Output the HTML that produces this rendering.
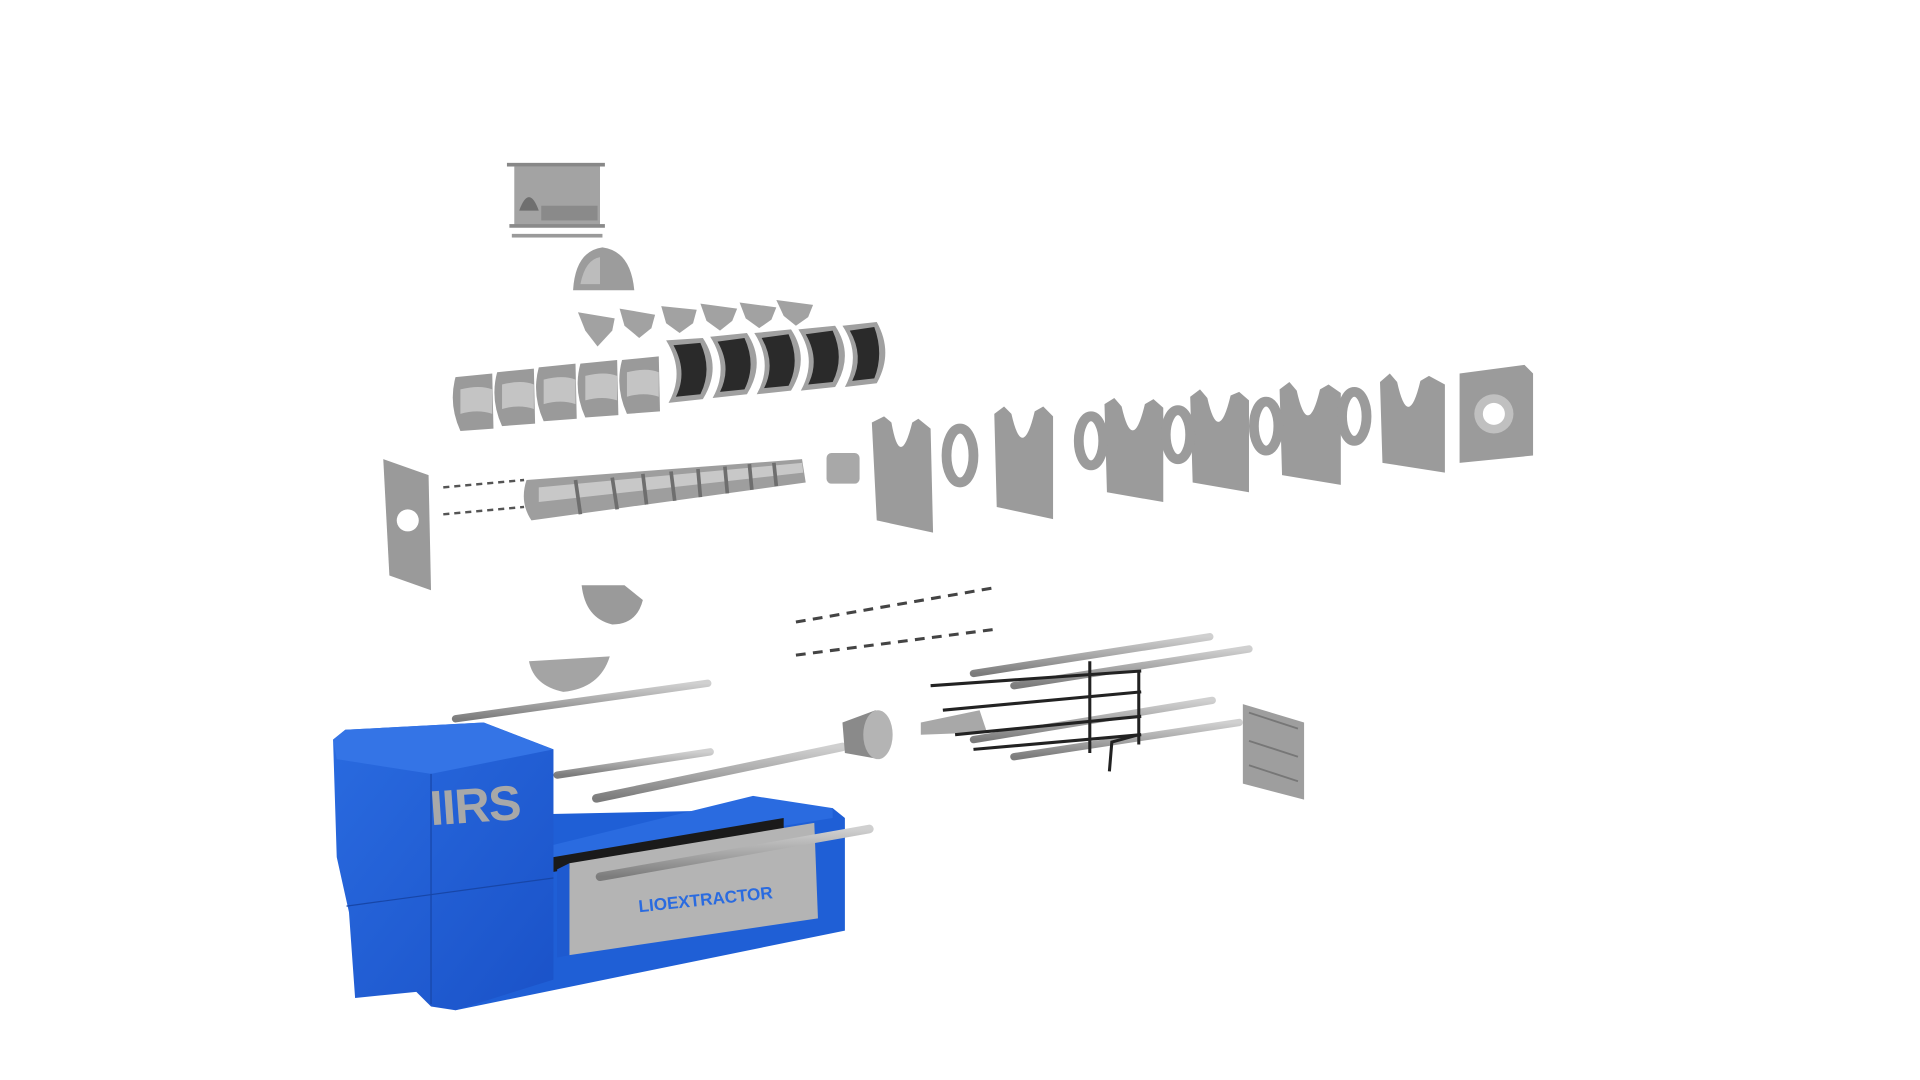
<!DOCTYPE html>
<html><head><meta charset="utf-8"><style>
html,body{margin:0;padding:0;background:#fff;width:1920px;height:1080px;overflow:hidden}
svg{display:block}
</style></head><body>
<svg width="1920" height="1080" viewBox="0 0 1568 882" preserveAspectRatio="none" xmlns="http://www.w3.org/2000/svg">
<defs>
<linearGradient id="rod" x1="0" y1="0" x2="0" y2="1"><stop offset="0" stop-color="#d0d0d0"/><stop offset=".5" stop-color="#a8a8a8"/><stop offset="1" stop-color="#7c7c7c"/></linearGradient>
<linearGradient id="blu" x1="0" y1="0" x2="1" y2="1"><stop offset="0" stop-color="#2a6be0"/><stop offset="1" stop-color="#1a52c8"/></linearGradient>
</defs>
<!-- hopper -->
<rect x="414" y="133" width="80" height="3" fill="#888"/>
<rect x="420" y="136" width="70" height="48" fill="#a3a3a3"/>
<path d="M424 172 Q432 150 440 172Z" fill="#6f6f6f"/>
<rect x="442" y="168" width="46" height="12" fill="#8a8a8a"/>
<rect x="416" y="183" width="78" height="3" fill="#8a8a8a"/>
<rect x="418" y="191" width="74" height="3" fill="#9a9a9a"/>
<!-- small arch -->
<path d="M468 237 Q470 205 492 202 Q515 205 518 237Z" fill="#9c9c9c"/>
<path d="M474 232 Q478 212 490 210 L490 232Z" fill="#bcbcbc"/>
<!-- wedges -->
<g fill="#a2a2a2">
<path d="M472 255 L502 260 L500 270 L488 283 L478 270Z"/>
<path d="M506 252 L535 257 L532 268 L522 276 L510 266Z"/>
<path d="M540 250 L569 253 L566 264 L555 272 L544 264Z"/>
<path d="M572 248 L602 252 L598 262 L588 270 L577 262Z"/>
<path d="M604 247 L634 251 L630 261 L620 268 L609 260Z"/>
<path d="M634 245 L664 249 L660 259 L650 266 L640 258Z"/>
</g>
<!-- light barrel halves -->
<g fill="#9a9a9a">
<path d="M372 308 L402 305 L403 350 L376 352 Q366 330 372 308Z"/>
<path d="M406 304 L436 301 L437 346 L410 348 Q400 326 406 304Z"/>
<path d="M440 300 L470 297 L471 342 L444 344 Q434 322 440 300Z"/>
<path d="M474 297 L504 294 L505 339 L478 341 Q468 319 474 297Z"/>
<path d="M508 294 L538 291 L539 336 L512 338 Q502 316 508 294Z"/>
</g>
<g fill="#c4c4c4">
<path d="M376 318 Q392 314 402 318 L402 338 Q390 334 376 338Z"/>
<path d="M410 314 Q426 310 436 314 L436 334 Q424 330 410 334Z"/>
<path d="M444 310 Q460 306 470 310 L470 330 Q458 326 444 330Z"/>
<path d="M478 307 Q494 303 504 307 L504 327 Q492 323 478 327Z"/>
<path d="M512 304 Q528 300 538 304 L538 324 Q526 320 512 324Z"/>
</g>
<!-- dark barrel halves -->
<g>
<path d="M544 278 L574 276 Q590 300 574 326 L546 329 Q560 304 544 278Z" fill="#a0a0a0"/>
<path d="M550 282 L572 280 Q582 302 572 322 L552 324 Q562 304 550 282Z" fill="#2a2a2a"/>
<path d="M580 275 L610 272 Q626 296 610 322 L582 325 Q596 300 580 275Z" fill="#a0a0a0"/>
<path d="M586 279 L608 276 Q618 298 608 318 L588 320 Q598 300 586 279Z" fill="#2a2a2a"/>
<path d="M616 272 L646 269 Q662 293 646 319 L618 322 Q632 297 616 272Z" fill="#a0a0a0"/>
<path d="M622 276 L644 273 Q654 295 644 315 L624 317 Q634 297 622 276Z" fill="#2a2a2a"/>
<path d="M652 269 L682 266 Q698 290 682 316 L654 319 Q668 294 652 269Z" fill="#a0a0a0"/>
<path d="M658 273 L680 270 Q690 292 680 312 L660 314 Q670 294 658 273Z" fill="#2a2a2a"/>
<path d="M688 266 L716 263 Q730 288 716 313 L690 316 Q704 290 688 266Z" fill="#a0a0a0"/>
<path d="M694 270 L714 267 Q722 289 714 309 L696 311 Q706 291 694 270Z" fill="#2a2a2a"/>
</g>
<!-- left plate -->
<path d="M313 375 L350 388 L352 482 L318 470Z" fill="#9a9a9a"/>
<circle cx="333" cy="425" r="9" fill="#fff"/>
<g stroke="#555" stroke-width="2" stroke-dasharray="5 4"><line x1="362" y1="398" x2="428" y2="392"/><line x1="362" y1="420" x2="428" y2="414"/></g>
<!-- screw -->
<path d="M430 392 L655 375 L658 394 L434 425 Q424 410 430 392Z" fill="#9e9e9e"/>
<path d="M440 398 L655 378 L656 386 L440 410Z" fill="#c8c8c8"/>
<g stroke="#6e6e6e" stroke-width="3"><line x1="470" y1="392" x2="474" y2="420"/><line x1="500" y1="390" x2="504" y2="416"/><line x1="525" y1="387" x2="528" y2="412"/><line x1="548" y1="385" x2="551" y2="409"/><line x1="570" y1="383" x2="572" y2="406"/><line x1="592" y1="381" x2="594" y2="403"/><line x1="612" y1="379" x2="614" y2="400"/><line x1="632" y1="378" x2="634" y2="397"/></g>
<rect x="675" y="370" width="27" height="25" rx="4" fill="#a8a8a8"/>
<!-- plates -->
<g fill="#9b9b9b">
<path d="M712 345 L722 340 L728 345 Q735 385 745 345 L750 342 L760 350 L762 435 L716 425Z"/>
<path d="M812 338 L820 332 L826 338 Q835 378 845 336 L852 332 L860 340 L860 424 L814 414Z"/>
<path d="M902 330 L910 325 L916 332 Q925 372 935 330 L942 326 L950 333 L950 410 L904 402Z"/>
<path d="M972 324 L980 318 L986 325 Q995 365 1005 323 L1012 320 L1020 327 L1020 402 L974 394Z"/>
<path d="M1045 318 L1053 312 L1059 319 Q1068 360 1078 318 L1085 314 L1095 321 L1095 396 L1047 388Z"/>
<path d="M1127 312 L1135 305 L1141 312 Q1150 353 1160 311 L1167 307 L1180 314 L1180 386 L1129 378Z"/>
<path d="M1192 305 L1245 298 L1252 305 L1252 372 L1192 378Z"/>
</g>
<circle cx="1220" cy="338" r="16" fill="#c0c0c0"/><circle cx="1220" cy="338" r="9" fill="#fff"/>
<g fill="none" stroke="#9b9b9b" stroke-width="8">
<ellipse cx="784" cy="372" rx="11" ry="22"/>
<ellipse cx="891" cy="360" rx="10" ry="20"/>
<ellipse cx="962" cy="355" rx="10" ry="20"/>
<ellipse cx="1034" cy="348" rx="10" ry="20"/>
<ellipse cx="1106" cy="340" rx="10" ry="20"/>
</g>
<!-- lower shells -->
<path d="M475 478 L510 478 L525 490 Q520 510 500 510 Q478 505 475 478Z" fill="#9a9a9a"/>
<path d="M432 540 L498 536 Q490 562 460 565 Q436 560 432 540Z" fill="#a4a4a4"/>
<g stroke="#444" stroke-width="2.5" stroke-dasharray="8 6"><line x1="650" y1="508" x2="812" y2="480"/><line x1="650" y1="535" x2="812" y2="514"/></g>
<!-- rods -->
<g stroke="url(#rod)" stroke-linecap="round">
<line x1="372" y1="587" x2="578" y2="558" stroke-width="6"/>
<line x1="455" y1="633" x2="580" y2="614" stroke-width="6"/>
<line x1="487" y1="652" x2="688" y2="610" stroke-width="7"/>
<line x1="795" y1="550" x2="988" y2="520" stroke-width="6"/>
<line x1="828" y1="560" x2="1020" y2="530" stroke-width="6"/>
<line x1="795" y1="604" x2="990" y2="572" stroke-width="6"/>
<line x1="828" y1="618" x2="1012" y2="590" stroke-width="6"/>
</g>
<path d="M688 590 L715 580 Q735 600 718 620 L690 615Z" fill="#8a8a8a"/>
<ellipse cx="717" cy="600" rx="12" ry="20" fill="#b4b4b4"/>
<path d="M752 590 L800 580 L806 598 L752 600Z" fill="#a8a8a8"/>
<g stroke="#222" stroke-width="2.5" fill="none">
<line x1="760" y1="560" x2="932" y2="548"/><line x1="770" y1="580" x2="932" y2="565"/>
<line x1="780" y1="600" x2="932" y2="585"/><line x1="795" y1="612" x2="932" y2="600"/>
<line x1="890" y1="540" x2="890" y2="615"/><line x1="930" y1="548" x2="930" y2="608"/>
<path d="M930 600 L908 606 L906 630"/>
</g>
<path d="M1015 575 L1065 590 L1065 653 L1015 640Z" fill="#9e9e9e"/>
<path d="M1020 582 L1060 595 M1020 605 L1060 618 M1020 625 L1060 638" stroke="#777" stroke-width="1.5"/>
<!-- blue machine -->
<path d="M440 665 L680 660 L690 668 L690 760 L372 825 L372 790Z" fill="#1f5fd6"/>
<path d="M452 690 L615 650 L680 660 L680 668 L452 705Z" fill="#2a6be0"/>
<path d="M452 700 L640 668 L640 678 L452 712Z" fill="#1a1a1a"/>
<path d="M272 604 L282 596 L395 590 L452 612 L452 800 L372 825 L352 822 L340 810 L290 815 L285 745 L275 700Z" fill="url(#blu)"/>
<path d="M272 604 L282 596 L395 590 L452 612 L352 632 L275 620Z" fill="#3474e6"/>
<line x1="352" y1="632" x2="352" y2="820" stroke="#1746a8" stroke-width="1"/>
<line x1="283" y1="740" x2="452" y2="717" stroke="#1746a8" stroke-width="1"/>
<path d="M465 705 L665 672 L668 750 L465 780Z" fill="#b4b4b4"/>
<path d="M455 710 L465 705 L465 780 L455 782Z" fill="#1e5ad0"/>
<line x1="490" y1="716" x2="710" y2="677" stroke="url(#rod)" stroke-width="7" stroke-linecap="round"/>
<text x="0" y="0" transform="translate(522 745) rotate(-6)" font-family="Liberation Sans, sans-serif" font-weight="bold" font-size="14" fill="#2a6be0">LIOEXTRACTOR</text>
<text x="0" y="0" transform="translate(352 674) rotate(-4)" font-family="Liberation Sans, sans-serif" font-weight="bold" font-size="40" fill="#a8a8a8" letter-spacing="-1">IIRS</text>
</svg>
</body></html>
